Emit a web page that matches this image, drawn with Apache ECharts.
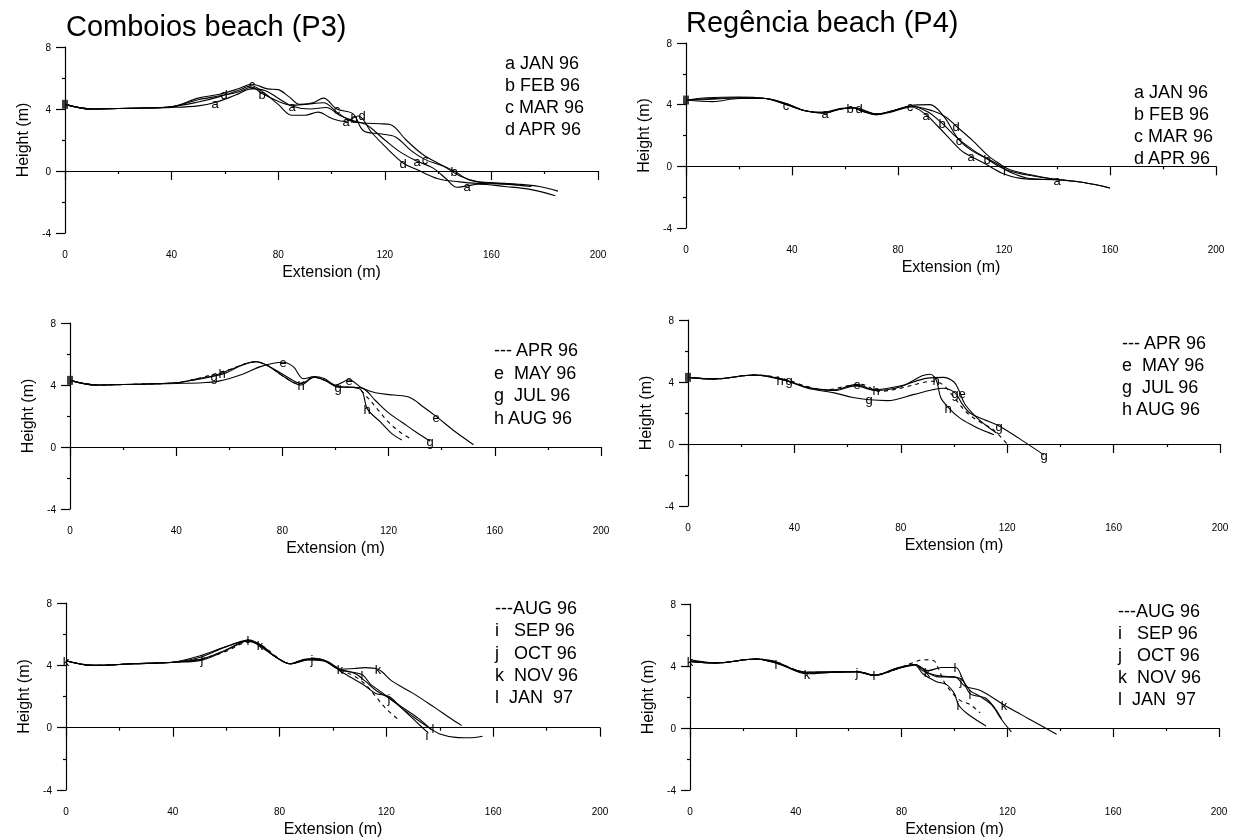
<!DOCTYPE html>
<html>
<head>
<meta charset="utf-8">
<title>Beach profiles P3 / P4</title>
<script src="https://cdn.jsdelivr.net/npm/echarts@6/dist/echarts.min.js"></script>
<style>
  html, body { margin: 0; padding: 0; background: #fff; }
  /* black-and-white figure: keep small letters free of colour fringes */
  #chart { width: 1235px; height: 838px; filter: grayscale(100%); }
</style>
</head>
<body>
<div id="chart"></div>
<script>
// ---- data: profiles, [extension m, height m] ----
// Comboios (P3), JAN-APR 96
const p3Jan96 = [[0,4.3],[10,4.0],[25,4.05],[40,4.1],[50,4.2],[57,4.45],[64,4.9],[70,5.3],[75,5.2],[80,4.7],[85,4.2],[92,4.0],[98,4.1],[103,3.6],[108,3.25],[113,3.0],[120,2.0],[126,1.2],[132,0.64],[138,0.2],[143,-0.5],[147,-1.05],[151,-0.96],[155,-0.85],[165,-1.0],[175,-1.2],[184,-1.6]]
const p3Feb96 = [[0,4.3],[10,4.0],[25,4.05],[40,4.15],[50,4.6],[58,4.85],[65,5.1],[70,5.4],[74,5.0],[80,4.5],[85,4.25],[90,4.3],[97,4.4],[102,3.8],[107,3.25],[112,3.1],[118,3.05],[122,3.0],[128,2.0],[134,1.1],[140,0.5],[146,0.0],[152,-0.6],[160,-0.75],[170,-0.85],[178,-1.0],[185,-1.3]]
const p3Mar96 = [[0,4.3],[10,4.0],[25,4.05],[40,4.15],[50,4.7],[58,4.95],[65,5.3],[70,5.6],[76,5.3],[80,5.25],[84,4.8],[88,4.3],[93,4.4],[97,4.7],[102,4.0],[108,3.7],[112,2.6],[118,2.4],[124,2.2],[130,1.3],[135,0.75],[142,0.3],[148,-0.3],[155,-0.7],[162,-0.8],[170,-0.9]]
const p3Apr96 = [[0,4.3],[10,4.0],[25,4.05],[40,4.15],[50,4.45],[58,4.8],[65,5.2],[70,5.5],[75,5.0],[80,4.3],[85,3.6],[90,3.6],[95,3.8],[100,3.4],[105,3.2],[110,3.55],[115,2.5],[120,1.6],[127,0.5],[132,0.1],[140,-0.5],[148,-0.7],[155,-0.8],[165,-0.85],[175,-1.0]]
const p3TagsJan96 = [[56.3,4.4],[85,4.2],[105.3,3.2],[132,0.64],[151,-0.96]]
const p3TagsFeb96 = [[74,5.0],[108.6,3.45],[146,0.0]]
const p3TagsMar96 = [[70,5.6],[102,4.0],[135,0.75]]
const p3TagsApr96 = [[59.6,4.95],[111.5,3.6],[127,0.5]]

// Regencia (P4), JAN-APR 96
const p4Jan96 = [[0,4.3],[8,4.45],[20,4.5],[30,4.4],[38,4.0],[45,3.6],[52,3.45],[58,3.7],[63,3.8],[66,3.6],[72,3.35],[78,3.55],[85,3.85],[90.6,3.35],[95,2.6],[100,1.7],[104,1.0],[107.5,0.65],[113,0.15],[120,-0.5],[127,-0.8],[135,-0.85],[140,-0.86],[150,-1.05],[160,-1.4]]
const p4Feb96 = [[0,4.3],[10,4.2],[20,4.4],[30,4.4],[38,4.05],[45,3.6],[52,3.5],[58,3.75],[63,3.8],[67,3.6],[72,3.4],[78,3.6],[85,3.9],[91,3.55],[96.6,2.8],[102,1.9],[108,1.1],[113.7,0.48],[118,0.0],[122,-0.3],[130,-0.6],[140,-0.86],[150,-1.05],[160,-1.4]]
const p4Mar96 = [[0,4.3],[10,4.35],[20,4.45],[30,4.4],[37.9,4.0],[45,3.6],[52,3.45],[58,3.7],[63,3.8],[67,3.55],[72,3.35],[78,3.6],[84.6,3.93],[92,4.0],[97,3.3],[103,1.73],[108,1.0],[113.7,0.5],[118,0.1],[122,-0.35],[130,-0.8],[140,-0.86]]
const p4Apr96 = [[0,4.3],[10,4.4],[20,4.45],[30,4.4],[38,4.05],[45,3.6],[52,3.5],[58,3.7],[64,3.8],[67,3.65],[72,3.4],[78,3.6],[85,3.9],[93,3.6],[98,3.2],[102,2.6],[108,1.7],[114,0.7],[118,0.2],[122,-0.2],[130,-0.55],[140,-0.86]]
const p4TagsJan96 = [[52.5,3.46],[90.6,3.35],[107.5,0.65],[140,-0.86]]
const p4TagsFeb96 = [[62,3.78],[96.6,2.8],[113.7,0.48]]
const p4TagsMar96 = [[37.9,4.0],[84.6,3.93],[103,1.73]]
const p4TagsApr96 = [[65.2,3.78],[102,2.6]]

// Comboios (P3), APR-AUG 96
const p3bApr96 = [[0,4.3],[10,4.0],[25,4.05],[40,4.15],[50,4.5],[60,5.0],[70,5.5],[75,5.2],[80,4.6],[86,4.1],[92,4.5],[96,4.3],[101,3.9],[108,3.8],[112,3.2],[116,2.4],[120,1.6],[124,1.0],[128,0.55]]
const p3May96 = [[0,4.3],[10,4.0],[25,4.05],[40,4.1],[50,4.15],[56,4.25],[65,4.7],[72,5.2],[80,5.47],[84,5.2],[88,4.4],[92,4.55],[96,4.4],[100,4.0],[105,4.33],[110,3.8],[115,3.5],[122,3.35],[128,3.2],[133,2.6],[138,1.96],[145,1.0],[152,0.15]]
const p3Jul96 = [[0,4.3],[10,4.0],[25,4.05],[40,4.15],[46,4.3],[54.3,4.6],[62,5.1],[70,5.5],[75,5.2],[82,4.5],[87,4.1],[92,4.5],[96,4.3],[101,3.86],[105,3.85],[110,3.8],[115,3.0],[120,2.2],[125,1.6],[130,1.0],[135.7,0.37]]
const p3Aug96 = [[0,4.3],[10,4.0],[25,4.05],[40,4.15],[48,4.4],[58.3,4.75],[65,5.3],[70,5.5],[75,5.2],[80,4.6],[87,4.0],[92,4.5],[96,4.3],[101,3.9],[107,3.85],[110,3.6],[112,2.46],[117,1.6],[121,0.9],[125,0.45]]
const p3TagsMay96 = [[80.4,5.47],[105,4.33],[138,1.96]]
const p3TagsJul96 = [[54.3,4.6],[101,3.86],[135.7,0.37]]
const p3TagsAug96 = [[57.3,4.75],[87,4.0],[112,2.46]]

// Regencia (P4), APR-AUG 96
const p4bApr96 = [[0,4.3],[10,4.2],[25,4.45],[35,4.25],[45,3.7],[52,3.5],[60,3.75],[65,3.85],[72,3.4],[80,3.6],[88,3.95],[92,4.05],[96,3.8],[100,3.0],[105,2.0],[110,1.4],[115,0.9],[120.8,-0.17]]
const p4May96 = [[0,4.3],[10,4.2],[25,4.45],[36,4.15],[45,3.65],[55,3.5],[63.4,3.85],[70,3.5],[80,3.75],[90,4.25],[96,4.3],[100,4.0],[102,3.4],[104,2.6],[108,1.8],[112,1.2],[116,0.7]]
const p4Jul96 = [[0,4.3],[10,4.2],[25,4.45],[36.4,4.1],[45,3.6],[55,3.3],[62,3.0],[68.2,2.85],[75,2.8],[85,3.2],[92,3.5],[96,3.6],[100.4,3.3],[103,2.6],[106,2.0],[111,1.6],[117.1,1.15],[125,0.3],[133.8,-0.7]]
const p4Aug96 = [[0,4.3],[10,4.2],[25,4.45],[35,4.2],[45,3.65],[55,3.45],[63,3.75],[70.5,3.46],[80,3.7],[88,4.4],[91,4.5],[93.4,4.1],[95,3.0],[97.9,2.35],[102,1.7],[107,1.2],[112,0.8],[115,0.6]]
const p4TagsMay96 = [[63.4,3.85],[103,3.3]]
const p4TagsJul96 = [[37.8,4.1],[68.2,2.93],[100.2,3.3],[117.1,1.15],[133.8,-0.7]]
const p4TagsAug96 = [[34.6,4.1],[70.5,3.46],[93.4,4.1],[97.9,2.35]]

// Comboios (P3), AUG 96 - JAN 97
const p3cAug96 = [[0,4.3],[10,4.0],[25,4.1],[40,4.2],[50,4.4],[60,4.9],[66,5.4],[70,5.5],[74,5.2],[80,4.4],[84,4.1],[88,4.3],[93,4.45],[98,4.2],[103,3.7],[108,3.3],[112,2.8],[116,2.0],[120,1.2],[124.6,0.5]]
const p3Sep96 = [[0,4.3],[10,4.0],[25,4.1],[40,4.2],[50,4.6],[60,5.2],[68,5.6],[72,5.3],[78,4.6],[84,4.1],[88,4.3],[93,4.45],[98,4.2],[103,3.6],[107,3.2],[111,2.8],[116,2.2],[121,2.0],[126,1.2],[131,0.4],[135.7,-0.35]]
const p3Oct96 = [[0,4.3],[10,4.0],[25,4.1],[40,4.2],[50.9,4.4],[60,5.0],[68,5.55],[73,5.3],[78,4.6],[84,4.1],[92.3,4.4],[98,4.25],[103,3.7],[108,3.5],[112,3.0],[116,2.4],[120.9,1.9],[126,1.3],[132,0.6],[137,-0.15]]
const p3Nov96 = [[0,4.3],[10,4.0],[25,4.1],[40,4.2],[50,4.5],[60,5.2],[68,5.55],[72.8,5.3],[78,4.6],[84,4.1],[90,4.4],[95,4.4],[102.7,3.75],[108,3.8],[112,3.85],[116.9,3.75],[122,3.0],[130,2.2],[138,1.3],[144,0.6],[148.2,0.13]]
const p3Jan97 = [[0,4.3],[10,4.0],[25,4.1],[40,4.2],[50,4.3],[58,4.8],[64,5.3],[68.3,5.64],[73,5.3],[78,4.6],[84,4.1],[90,4.35],[96,4.3],[102,3.8],[106,3.6],[111,3.4],[114,2.8],[118,2.3],[124,1.5],[130,0.7],[136,0.0],[140,-0.4],[146,-0.62],[151,-0.65],[156,-0.55]]
const p3TagsSep96 = [[135.2,-0.45]]
const p3TagsOct96 = [[50.9,4.4],[92.3,4.4],[120.9,1.9]]
const p3TagsNov96 = [[0,4.3],[72.8,5.3],[102.7,3.75],[116.9,3.75]]
const p3TagsJan97 = [[68.3,5.64],[111,3.4],[137.6,-0.05]]

// Regencia (P4), AUG 96 - JAN 97
const p4cAug96 = [[0,4.3],[10,4.2],[25,4.45],[32,4.3],[44,3.6],[55,3.6],[63,3.65],[70,3.4],[78,3.8],[84,4.2],[88,4.4],[92,4.35],[94,3.8],[96,3.0],[99,2.3],[102,1.8],[106,1.5],[109.7,0.97]]
const p4Sep96 = [[0,4.3],[10,4.2],[25,4.45],[32.4,4.2],[44.3,3.55],[55,3.6],[63,3.65],[69.5,3.4],[78,3.8],[85,4.05],[88,3.5],[93,3.0],[97,2.8],[100,2.2],[101.5,1.5],[105,0.9],[111.9,0.13]]
const p4Oct96 = [[0,4.3],[10,4.2],[25,4.45],[32,4.25],[44,3.6],[55,3.6],[63.3,3.6],[70,3.4],[78,3.8],[85,4.1],[88,3.7],[93,3.4],[98,3.3],[102.2,3.2],[106,2.4],[110,2.0],[114,1.5],[118,0.5],[121.5,-0.25]]
const p4Nov96 = [[0,4.3],[10,4.2],[25,4.45],[32,4.3],[44.3,3.5],[55,3.6],[63,3.65],[70,3.4],[78,3.85],[85,4.1],[89.6,3.6],[94,3.3],[100,3.3],[104,2.7],[110,2.4],[118.6,1.5],[128,0.6],[138.6,-0.4]]
const p4Jan97 = [[0,4.4],[10,4.2],[25,4.45],[32.4,4.2],[44,3.6],[55,3.65],[63,3.65],[69.5,3.4],[78,3.85],[85,4.1],[90,3.7],[95,3.9],[100.4,3.9],[103,3.2],[106,2.2],[112,1.9],[117.8,0.6]]
const p4TagsSep96 = [[101.5,1.47]]
const p4TagsOct96 = [[63.3,3.6],[102.6,3.1]]
const p4TagsNov96 = [[0,4.3],[44.3,3.5],[89.6,3.6],[118.6,1.5]]
const p4TagsJan97 = [[32.4,4.1],[69.5,3.4],[100,3.95],[106,2.2]]

// common start benchmark of each profile (the dark block at x = 0)
const p3Start = [[0, 4.3]]
const p4Start = [[0, 4.3]]

const xTicks = [0, 200, 40]   // min, max, labelled step
const yTicks = [-4, 8, 4]

const legendSet1 = ['a JAN 96', 'b FEB 96', 'c MAR 96', 'd APR 96']
const legendSet2 = ['--- APR 96', 'e\u00a0\u00a0MAY 96', 'g\u00a0\u00a0JUL 96', 'h AUG 96']
const legendSet3 = ['---AUG 96', 'i\u00a0\u00a0\u00a0SEP 96', 'j\u00a0\u00a0\u00a0OCT 96', 'k\u00a0\u00a0NOV 96', 'l\u00a0\u00a0JAN\u00a0\u00a097']

// ---- layout ----
const FONT = 'Liberation Sans, Arial, sans-serif'
const panels = [
  { grid: { left: 65, top: 47, width: 533, height: 186 }, title: 'Comboios beach (P3)', titlePos: [66, 26],
    legend: legendSet1, legendPos: [505, 63, 22], start: p3Start,
    curves: [
      { data: p3Jan96, tags: p3TagsJan96, letter: 'a' },
      { data: p3Feb96, tags: p3TagsFeb96, letter: 'b' },
      { data: p3Mar96, tags: p3TagsMar96, letter: 'c' },
      { data: p3Apr96, tags: p3TagsApr96, letter: 'd' }
    ] },
  { grid: { left: 686, top: 43, width: 530, height: 185 }, title: 'Regência beach (P4)', titlePos: [686, 22],
    legend: legendSet1, legendPos: [1134, 92, 22], start: p4Start,
    curves: [
      { data: p4Jan96, tags: p4TagsJan96, letter: 'a' },
      { data: p4Feb96, tags: p4TagsFeb96, letter: 'b' },
      { data: p4Mar96, tags: p4TagsMar96, letter: 'c' },
      { data: p4Apr96, tags: p4TagsApr96, letter: 'd' }
    ] },
  { grid: { left: 70, top: 323, width: 531, height: 186 },
    legend: legendSet2, legendPos: [494, 350, 22.7], start: p3Start,
    curves: [
      { data: p3bApr96, dashed: true },
      { data: p3May96, tags: p3TagsMay96, letter: 'e' },
      { data: p3Jul96, tags: p3TagsJul96, letter: 'g' },
      { data: p3Aug96, tags: p3TagsAug96, letter: 'h' }
    ] },
  { grid: { left: 688, top: 320, width: 532, height: 186 },
    legend: legendSet2, legendPos: [1122, 343, 22], start: p4Start,
    curves: [
      { data: p4bApr96, dashed: true },
      { data: p4May96, tags: p4TagsMay96, letter: 'e' },
      { data: p4Jul96, tags: p4TagsJul96, letter: 'g' },
      { data: p4Aug96, tags: p4TagsAug96, letter: 'h' }
    ] },
  { grid: { left: 66, top: 603, width: 534, height: 187 },
    legend: legendSet3, legendPos: [495, 608, 22.3],
    curves: [
      { data: p3cAug96, dashed: true },
      { data: p3Sep96, tags: p3TagsSep96, letter: 'i' },
      { data: p3Oct96, tags: p3TagsOct96, letter: 'j' },
      { data: p3Nov96, tags: p3TagsNov96, letter: 'k' },
      { data: p3Jan97, tags: p3TagsJan97, letter: 'l' }
    ] },
  { grid: { left: 690, top: 604, width: 529, height: 186 },
    legend: legendSet3, legendPos: [1118, 611, 22],
    curves: [
      { data: p4cAug96, dashed: true },
      { data: p4Sep96, tags: p4TagsSep96, letter: 'i' },
      { data: p4Oct96, tags: p4TagsOct96, letter: 'j' },
      { data: p4Nov96, tags: p4TagsNov96, letter: 'k' },
      { data: p4Jan97, tags: p4TagsJan97, letter: 'l' }
    ] }
]

const axisLine = { lineStyle: { color: '#000', width: 1.2 } }
const tickStyle = { lineStyle: { color: '#000', width: 1.2 } }

const grids = []
const xAxes = []
const yAxes = []
const series = []
const graphics = []

panels.forEach((p, i) => {
  grids.push(p.grid)
  xAxes.push({
    gridIndex: i,
    type: 'value',
    min: xTicks[0],
    max: xTicks[1],
    interval: xTicks[2],
    name: 'Extension (m)',
    nameLocation: 'middle',
    nameGap: 30,
    nameTextStyle: { fontSize: 16, color: '#000', fontFamily: FONT },
    axisLine: axisLine,
    axisTick: Object.assign({ length: 9 }, tickStyle),
    minorTick: Object.assign({ show: true, splitNumber: 2, length: 3 }, tickStyle),
    axisLabel: { fontSize: 10, margin: 16, color: '#000', fontFamily: FONT },
    splitLine: { show: false },
    minorSplitLine: { show: false }
  })
  yAxes.push({
    gridIndex: i,
    type: 'value',
    min: yTicks[0],
    max: yTicks[1],
    interval: yTicks[2],
    name: 'Height (m)',
    nameLocation: 'middle',
    nameGap: 35,
    nameRotate: 90,
    nameTextStyle: { fontSize: 16, color: '#000', fontFamily: FONT },
    axisLine: axisLine,
    axisTick: Object.assign({ length: 9 }, tickStyle),
    minorTick: Object.assign({ show: true, splitNumber: 2, length: 3 }, tickStyle),
    axisLabel: { fontSize: 10, margin: 14, color: '#000', fontFamily: FONT },
    splitLine: { show: false },
    minorSplitLine: { show: false }
  })

  p.curves.forEach(c => {
    series.push({
      type: 'line',
      xAxisIndex: i,
      yAxisIndex: i,
      data: c.data,
      smooth: 0.35,
      symbol: 'none',
      silent: true,
      color: '#000',
      lineStyle: { color: '#000', width: 1.1, type: c.dashed ? [4, 4] : 'solid' }
    })
    if (c.tags) {
      // letter marks along the profile, placed through the axes
      const letter = c.letter
      series.push({
        type: 'custom',
        xAxisIndex: i,
        yAxisIndex: i,
        data: c.tags,
        encode: { x: 0, y: 1 },
        silent: true,
        z: 3,
        renderItem: (params, api) => {
          const pt = api.coord([api.value(0), api.value(1)])
          return {
            type: 'text',
            x: Math.round(pt[0]),
            y: Math.round(pt[1]),
            style: {
              text: letter,
              fill: '#000',
              fontSize: 13,
              fontFamily: FONT,
              align: 'center',
              verticalAlign: 'middle'
            }
          }
        }
      })
    }
  })

  if (p.start) {
    series.push({
      type: 'scatter',
      xAxisIndex: i,
      yAxisIndex: i,
      data: p.start,
      symbol: 'rect',
      symbolSize: [6, 9],
      silent: true,
      itemStyle: { color: '#111' },
      z: 4
    })
  }

  if (p.title) {
    graphics.push({
      type: 'text',
      x: p.titlePos[0],
      y: p.titlePos[1],
      style: { text: p.title, fontSize: 29, fontFamily: FONT, fill: '#000', verticalAlign: 'middle' }
    })
  }
  p.legend.forEach((t, k) => {
    graphics.push({
      type: 'text',
      x: p.legendPos[0],
      y: p.legendPos[1] + k * p.legendPos[2],
      style: { text: t, fontSize: 18, fontFamily: FONT, fill: '#000', verticalAlign: 'middle' }
    })
  })
})

const chart = echarts.init(document.getElementById('chart'), null, { renderer: 'svg' })
chart.setOption({
  animation: false,
  backgroundColor: '#fff',
  grid: grids,
  xAxis: xAxes,
  yAxis: yAxes,
  series: series,
  graphic: graphics
})
</script>
</body>
</html>
